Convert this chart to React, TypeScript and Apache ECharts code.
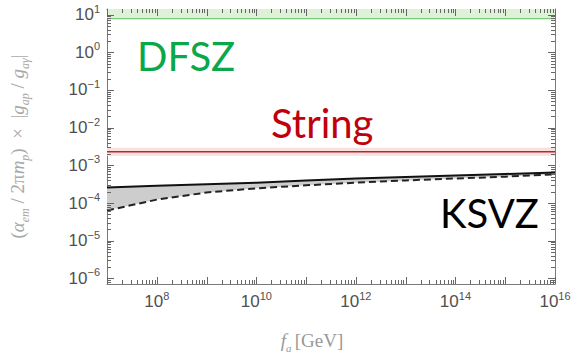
import React, { useEffect, useRef } from "react";
import * as echarts from "echarts";

// f_a values (GeV)
const faGeV = [1e7, 1e8, 1e9, 1e10, 1e11, 1e12, 1e13, 1e14, 1e15, 1e16];
// KSVZ band: upper solid curve and lower dashed curve
const ksvzUpper = [2.57e-4, 2.88e-4, 3.16e-4, 3.47e-4, 3.98e-4, 4.47e-4, 4.9e-4, 5.37e-4, 5.89e-4, 6.46e-4];
const ksvzLower = [6.3e-5, 1.23e-4, 1.9e-4, 2.45e-4, 2.95e-4, 3.47e-4, 3.98e-4, 4.47e-4, 5.0e-4, 5.75e-4];
// String line and its band
const stringCenter = [2.3e-3, 2.3e-3];
const stringLow = [1.8e-3, 1.8e-3];
const stringHigh = [2.95e-3, 2.95e-3];
// DFSZ band (lower edge, upper edge beyond plot)
const dfszLow = [7.8, 7.8];
const dfszHigh = [30, 30];
const edgeGeV = [1e7, 1e16];

// axis ticks (log10 exponents)
const xMajor = [7, 8, 9, 10, 11, 12, 13, 14, 15, 16];
const xLabels = [8, 10, 12, 14, 16];
const yMajor = [-6, -5, -4, -3, -2, -1, 0, 1];
const X_MIN = 7, X_MAX = 16, Y_MIN = -6.15, Y_MAX = 1.15;

const L = Math.log10;
const minors = (lo: number, hi: number, a: number, b: number) => {
  const out: number[] = [];
  for (let n = lo; n <= hi; n++) for (let k = 2; k <= 9; k++) {
    const v = n + L(k);
    if (v > a && v < b) out.push(v);
  }
  return out;
};
const pow = (v: number) => `{b|10}{e|${v < 0 ? "\u2212" + -v : v}}`;

export default function App() {
  const ref = useRef<HTMLDivElement>(null);
  useEffect(() => {
    const chart = echarts.init(ref.current!, null, { renderer: "svg" });
    const frame = "#7a7a7a";
    const tickColor = "#666";
    const labelRich = {
      b: { fontSize: 17, fontFamily: "Liberation Sans", color: "#505050", padding: [3, 0, 3, 0] },
      e: { fontSize: 11, fontFamily: "Liberation Sans", color: "#505050", verticalAlign: "top" },
    };
    const grid = { left: 107, right: 22, top: 9, bottom: 75 };
    const xMinor = minors(7, 15, X_MIN, X_MAX);
    const yMinor = minors(-7, 1, Y_MIN, Y_MAX);
    const nStyle = { fontFamily: "Liberation Serif", fontSize: 19, color: "#a8a8a8", padding: [0, 0, 4, 0] };
    const iStyle = { ...nStyle, fontStyle: "italic" };
    const sStyle = { fontFamily: "Liberation Serif", fontStyle: "italic", fontSize: 12, color: "#a8a8a8", verticalAlign: "bottom" };
    const xAxis: any = {
      type: "value", position: "bottom", min: X_MIN, max: X_MAX,
      axisLine: { show: true, onZero: false, lineStyle: { color: frame, width: 1 } },
      axisTick: { show: false },
      axisLabel: { show: true, customValues: xLabels, formatter: (v: number) => pow(v), rich: labelRich, margin: 6 },
      splitLine: { show: false },
      name: "{i|f}{s|a} {n|[GeV]}", nameLocation: "middle", nameGap: 47,
      nameTextStyle: {
        padding: [0, 38, 0, 0],
        rich: {
          i: { fontFamily: "Liberation Serif", fontStyle: "italic", fontSize: 19, color: "#999", padding: [0, 0, 3, 0] },
          s: { fontFamily: "Liberation Serif", fontStyle: "italic", fontSize: 11, color: "#999", verticalAlign: "bottom" },
          n: { fontFamily: "Liberation Serif", fontSize: 19, color: "#999", padding: [0, 0, 3, 0] },
        },
      },
    };
    const xTop: any = {
      type: "value", position: "top", min: X_MIN, max: X_MAX,
      axisLine: { show: true, onZero: false, lineStyle: { color: frame, width: 1 } },
      axisTick: { show: false }, axisLabel: { show: false }, splitLine: { show: false },
    };
    const yAxis: any = {
      type: "value", position: "left", min: Y_MIN, max: Y_MAX,
      axisLine: { show: true, onZero: false, lineStyle: { color: frame, width: 1 } },
      axisTick: { show: false },
      axisLabel: { show: true, customValues: yMajor, formatter: (v: number) => pow(v), rich: labelRich, margin: 7 },
      splitLine: { show: false },
      name: "{n|(}{i|α}{s|em}{n| / 2π}{i|m}{s|p}{n|)  ×  |}{i|g}{s|ap}{n| / }{i|g}{s|aγ}{n||}",
      nameLocation: "middle", nameGap: 76, nameRotate: 90,
      nameTextStyle: { rich: { n: nStyle, i: iStyle, s: sStyle } },
    };
    const yRight: any = {
      type: "value", position: "right", min: Y_MIN, max: Y_MAX,
      axisLine: { show: true, onZero: false, lineStyle: { color: frame, width: 1 } },
      axisTick: { show: false }, axisLabel: { show: false }, splitLine: { show: false },
    };

    // tick marks on all four sides, placed through the axes' scales
    const xTickSets: [number[], number][] = [[xMajor, 7], [xMinor, 4]];
    const yTickSets: [number[], number][] = [[yMajor, 7], [yMinor, 4]];
    const ticks = {
      type: "custom", silent: true, clip: false, z: 20,
      data: [[(X_MIN + X_MAX) / 2, (Y_MIN + Y_MAX) / 2]],
      renderItem: (_p: any, api: any) => {
        const leftX = Math.round(api.coord([X_MIN, Y_MAX])[0]);
        const rightX = Math.round(api.coord([X_MAX, Y_MAX])[0]);
        const topY = Math.round(api.coord([X_MAX, Y_MAX])[1]);
        const bottomY = Math.round(api.coord([X_MAX, Y_MIN])[1]);
        const children: any[] = [];
        const st = { stroke: tickColor, lineWidth: 1, fill: "none" };
        xTickSets.forEach(([vals, len]) => vals.forEach((v) => {
          const x = Math.round(api.coord([v, Y_MAX])[0]) + 0.5;
          children.push({ type: "rect", shape: { x: x - 0.5, y: bottomY - len, width: 1, height: len }, style: { fill: tickColor } });
          children.push({ type: "rect", shape: { x: x - 0.5, y: topY, width: 1, height: len }, style: { fill: tickColor } });
        }));
        yTickSets.forEach(([vals, len]) => vals.forEach((v) => {
          const y = Math.round(api.coord([X_MAX, v])[1]);
          children.push({ type: "rect", shape: { x: leftX, y, width: len, height: 1 }, style: { fill: tickColor } });
          children.push({ type: "rect", shape: { x: rightX - len, y, width: len, height: 1 }, style: { fill: tickColor } });
        }));
        return { type: "group", children };
      },
    };

    const fx = faGeV.map(L);
    const ex = edgeGeV.map(L);
    const pts = (xs: number[], ys: number[]) => xs.map((x, i) => [x, L(ys[i])]);
    const band = (xs: number[], lo: number[], hi: number[], color: string) => ({
      type: "custom", silent: true, clip: true, z: 1,
      data: [[xs[0], L(lo[0])]],
      renderItem: (_p: any, api: any) => {
        const top = xs.map((x, i) => api.coord([x, L(hi[i])]));
        const bot = xs.map((x, i) => api.coord([x, L(lo[i])])).reverse();
        return { type: "polygon", shape: { points: top.concat(bot) }, style: { fill: color } };
      },
    });
    const common = { type: "line", symbol: "none", silent: true, z: 3 };
    chart.setOption({
      animation: false,
      backgroundColor: "#fff",
      grid,
      xAxis: [xAxis, xTop],
      yAxis: [yAxis, yRight],
      series: [
        band(ex, dfszLow, dfszHigh, "#dcf1d6"),
        { ...common, data: pts(ex, dfszLow), lineStyle: { color: "#7cc77a", width: 1.2 } },
        band(ex, stringLow, stringHigh, "#f9e0e0"),
        { ...common, data: pts(ex, stringCenter), lineStyle: { color: "#b02a2a", width: 1.5 } },
        band(fx, ksvzLower, ksvzUpper, "#cdcdcd"),
        { ...common, data: pts(fx, ksvzUpper), lineStyle: { color: "#111", width: 2 } },
        { ...common, data: pts(fx, ksvzLower), lineStyle: { color: "#222", width: 2, type: [7, 4] } },
        ticks,
      ],
      graphic: [
        { type: "text", left: 137, top: 36, style: { text: "DFSZ", font: "40px Lato", fill: "#0aa74b" } },
        { type: "text", left: 271, top: 103, style: { text: "String", font: "40px Lato", fill: "#c0000a" } },
        { type: "text", left: 440, top: 193, style: { text: "KSVZ", font: "40px Lato", fill: "#000" } },
      ],
    });
    return () => chart.dispose();
  }, []);
  return (
    <div
      ref={ref}
      style={{ position: "fixed", left: 0, top: 0, width: 577, height: 359, background: "#fff" }}
    />
  );
}
